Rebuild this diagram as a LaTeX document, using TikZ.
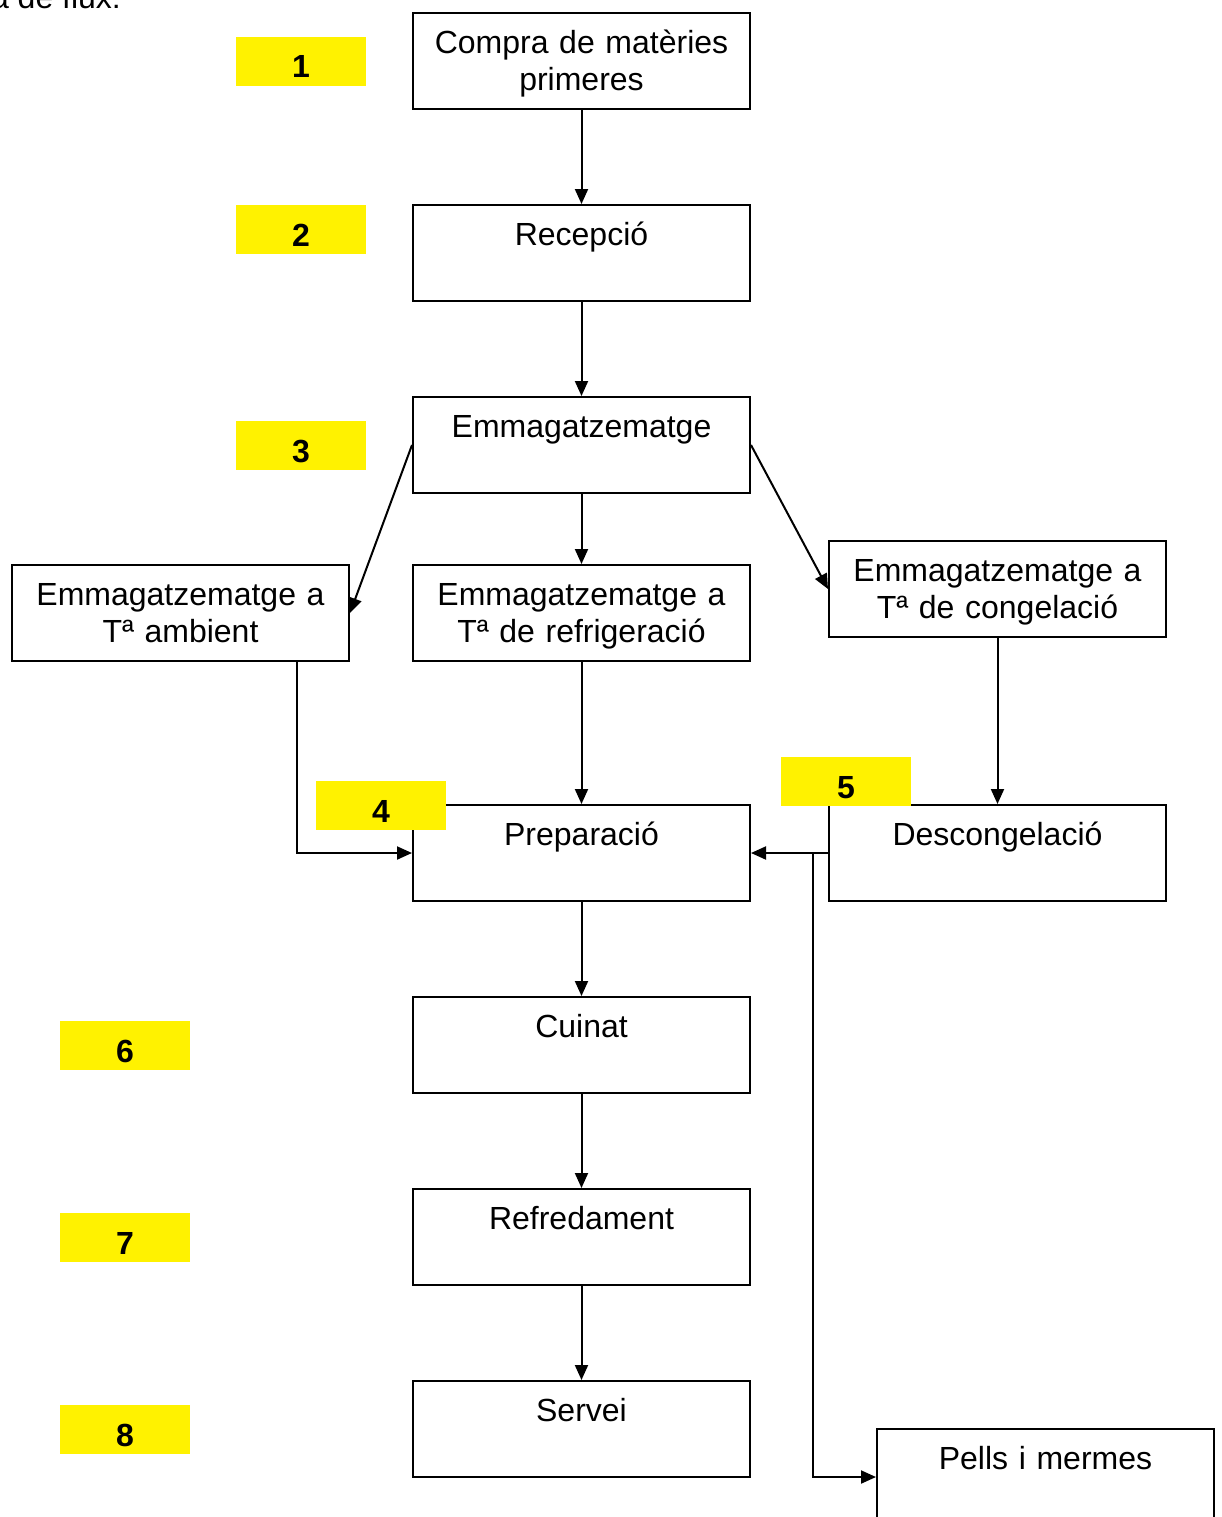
\documentclass[tikz,border=0pt]{standalone}
\usepackage{fontspec}
\setmainfont{Liberation Sans}
\usetikzlibrary{arrows.meta}

\begin{document}
\begin{tikzpicture}[x=0.5pt, y=-0.5pt,
    stepbox/.style={draw, line width=1pt, text width=168.5pt, align=center,
        inner xsep=0pt, inner ysep=0pt, text height=20pt, text depth=28pt,
        font=\fontsize{16pt}{18.5pt}\selectfont},
    steptag/.style={fill=yellow, minimum width=65pt, minimum height=24.5pt,
        inner sep=0pt, text height=16.5pt, text depth=0pt,
        font=\fontsize{16pt}{18.5pt}\selectfont\bfseries},
    flow/.style={line width=1pt, -{Triangle[length=7.5pt,width=6.5pt]}}]

        \path[use as bounding box] (0,0) rectangle (1222,1517);
        \clip (0,0) rectangle (1222,1517);

        \node[anchor=base west, font=\fontsize{16pt}{18.5pt}\selectfont] (caption) at (-16,8) {a de flux:};

        % main column
        \node[stepbox] (compra) at (581.5,61) {Compra de matèries\\primeres};
        \node[stepbox] (recep) at (581.5,253) {Recepció};
        \node[stepbox] (emm) at (581.5,445) {Emmagatzematge};
        \node[stepbox] (refrig) at (581.5,613) {Emmagatzematge a\\Tª de refrigeració};
        \node[stepbox] (prep) at (581.5,853) {Preparació};
        \node[stepbox] (cuinat) at (581.5,1045) {Cuinat};
        \node[stepbox] (refred) at (581.5,1237) {Refredament};
        \node[stepbox] (servei) at (581.5,1429) {Servei};

        % side boxes
        \node[stepbox] (ambient) at (180.5,613) {Emmagatzematge a\\Tª ambient};
        \node[stepbox] (congel) at (997.5,589) {Emmagatzematge a\\Tª de congelació};
        \node[stepbox] (desc) at (997.5,853) {Descongelació};
        \node[stepbox] (pells) at (1045.5,1477) {Pells i mermes};

        \coordinate (ambdrop) at (297,661);
        \coordinate (split) at (813,853);

        \draw[flow] (compra) -- (recep);
        \draw[flow] (recep) -- (emm);
        \draw[flow] (emm) -- (refrig);
        \draw[flow] (emm.west) -- (ambient.east);
        \draw[flow] (emm.east) -- (congel.west);
        \draw[flow] (ambdrop) |- (prep.west);
        \draw[flow] (refrig) -- (prep);
        \draw[flow] (congel) -- (desc);
        \draw[flow] (desc.west) -- (prep.east);
        \draw[flow] (split) |- (pells.west);
        \draw[flow] (prep) -- (cuinat);
        \draw[flow] (cuinat) -- (refred);
        \draw[flow] (refred) -- (servei);

        % numbers
        \node[steptag] (n1) at (301,61) {1};
        \node[steptag] (n2) at (301,229.5) {2};
        \node[steptag] (n3) at (301,445.5) {3};
        \node[steptag] (n4) at (381,805.5) {4};
        \node[steptag] (n5) at (846,781.5) {5};
        \node[steptag] (n6) at (125,1045.5) {6};
        \node[steptag] (n7) at (125,1237.5) {7};
        \node[steptag] (n8) at (125,1429.5) {8};
    \end{tikzpicture}
\end{document}
